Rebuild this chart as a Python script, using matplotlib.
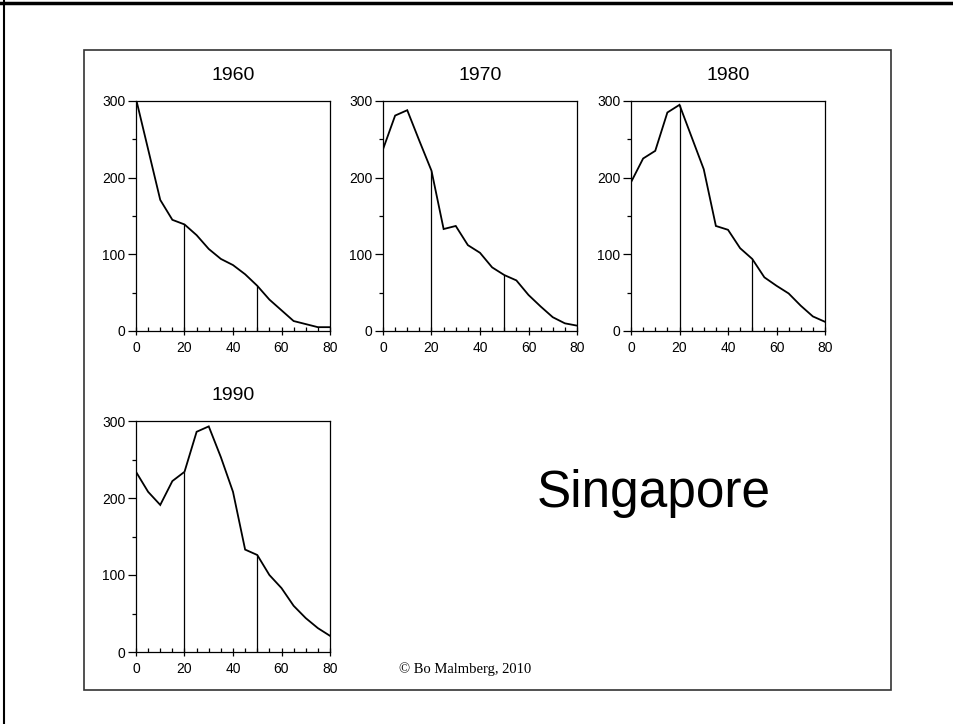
import matplotlib
matplotlib.use("Agg")
import matplotlib.pyplot as plt
from matplotlib.lines import Line2D
from matplotlib.patches import Rectangle
from matplotlib.ticker import MultipleLocator

ages = [0, 5, 10, 15, 20, 25, 30, 35, 40, 45, 50, 55, 60, 65, 70, 75, 80]
pop_1960 = [303, 237, 171, 145, 139, 125, 107, 94, 86, 74, 59, 41, 27, 13, 9, 5, 5]
pop_1970 = [237, 281, 288, 248, 209, 133, 137, 112, 102, 83, 73, 66, 47, 32, 18, 10, 7]
pop_1980 = [194, 225, 235, 285, 295, 253, 211, 137, 132, 108, 94, 70, 59, 49, 33, 19, 12]
pop_1990 = [234, 208, 191, 222, 234, 286, 293, 253, 208, 133, 126, 100, 83, 60, 44, 31, 21]
years = ["1960", "1970", "1980", "1990"]
series = [pop_1960, pop_1970, pop_1980, pop_1990]
marker_ages = [20, 50]

W, H = 954, 724
fig = plt.figure(figsize=(W / 100, H / 100), dpi=100)
plt.rcParams['font.family'] = ['Liberation Sans', 'DejaVu Sans']

def frac(x0, y0, x1, y1):
    return [x0 / W, 1 - y1 / H, (x1 - x0) / W, (y1 - y0) / H]

# panel boxes in pixels (left, top, right, bottom)
boxes = [(136, 101, 330, 331), (383, 101, 577, 331), (631, 101, 825, 331), (136, 421, 330, 652)]

for year, vals, box in zip(years, series, boxes):
    ax = fig.add_axes(frac(*box))
    ax.plot(ages, vals, color='black', lw=1.3, solid_joinstyle='miter')
    for a in marker_ages:
        ax.vlines(a, 0, vals[ages.index(a)], color='black', lw=0.9)
    ax.set_xlim(0, 80)
    ax.set_ylim(0, 300)
    ax.xaxis.set_major_locator(MultipleLocator(20))
    ax.xaxis.set_minor_locator(MultipleLocator(5))
    ax.yaxis.set_major_locator(MultipleLocator(100))
    ax.yaxis.set_minor_locator(MultipleLocator(50))
    ax.tick_params(axis='x', which='major', direction='inout', length=6, width=0.9, pad=4, labelsize=10)
    ax.tick_params(axis='x', which='minor', direction='in', length=3, width=0.9)
    ax.tick_params(axis='y', which='major', direction='out', length=6, width=0.9, pad=1.5, labelsize=10)
    ax.tick_params(axis='y', which='minor', direction='out', length=3, width=0.9)
    for s in ax.spines.values():
        s.set_linewidth(0.9)
    ax.set_title(year, fontsize=14, pad=15)

fig.text(654 / W, 1 - 493 / H, "Singapore", fontsize=37, ha='center', va='center')
fig.text(465 / W, 1 - 669 / H, "\u00a9 Bo Malmberg, 2010", fontsize=10.5, ha='center', va='center',
         family=['Liberation Serif', 'DejaVu Serif'])

# inner slide box
fig.add_artist(Rectangle((84 / W, 1 - 690 / H), (891 - 84) / W, (690 - 50) / H,
                         transform=fig.transFigure, fill=False, edgecolor='#333333', lw=1.2))
# outer frame (top and left edges)
fig.add_artist(Line2D([0, 1], [1 - 3 / H, 1 - 3 / H], transform=fig.transFigure, color='black', lw=2.5))
fig.add_artist(Line2D([4 / W, 4 / W], [0, 1], transform=fig.transFigure, color='black', lw=1.5))

fig.savefig("out.png", dpi=100)
